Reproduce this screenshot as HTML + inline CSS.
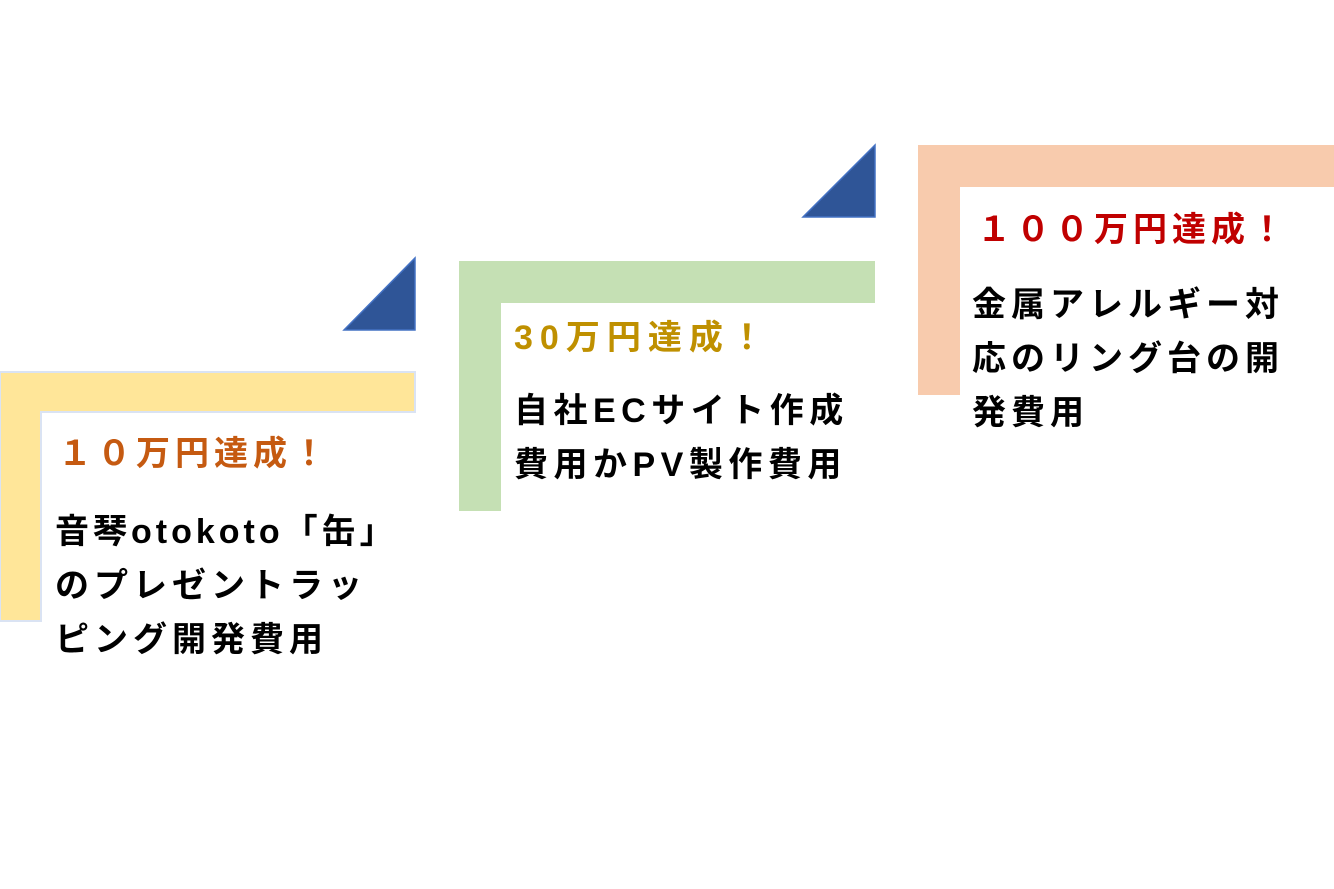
<!DOCTYPE html>
<html><head><meta charset="utf-8"><style>
html,body{margin:0;padding:0;background:#fff;}
svg{display:block}
text{font-family:"Liberation Sans","Noto Sans CJK JP",sans-serif;font-weight:bold;}
</style></head><body>
<svg width="1334" height="889" viewBox="0 0 1334 889">
<polygon points="0,372 415,372 415,412 41,412 41,621 0,621" fill="#ffe699" stroke="#dae3f3" stroke-width="2"/>
<polygon points="459,261 875,261 875,303 501,303 501,511 459,511" fill="#c5e0b4"/>
<polygon points="918,145 1334,145 1334,187 960,187 960,395 918,395" fill="#f8cbad"/>
<polygon points="344,330 415,330 415,258" fill="#2f5597" stroke="#4472c4" stroke-width="1.5"/>
<polygon points="803,217 875,217 875,145" fill="#2f5597" stroke="#4472c4" stroke-width="1.5"/>
<g font-size="34" letter-spacing="5">
<text x="58" y="465" fill="#c55a11">１０万円達成！</text>
<text x="55" y="543" fill="#000" letter-spacing="4">音琴otokoto「缶」</text>
<text x="55" y="597" fill="#000">のプレゼントラッ</text>
<text x="55" y="651" fill="#000">ピング開発費用</text>
<text x="514" y="349" fill="#bf9000" letter-spacing="7">30万円達成！</text>
<text x="514" y="422" fill="#000" letter-spacing="5.5">自社ECサイト作成</text>
<text x="514" y="476" fill="#000" letter-spacing="5.5">費用かPV製作費用</text>
<text x="977" y="241" fill="#c00000">１００万円達成！</text>
<text x="972" y="316" fill="#000">金属アレルギー対</text>
<text x="972" y="370" fill="#000">応のリング台の開</text>
<text x="972" y="424" fill="#000">発費用</text>
</g>
</svg>
</body></html>
